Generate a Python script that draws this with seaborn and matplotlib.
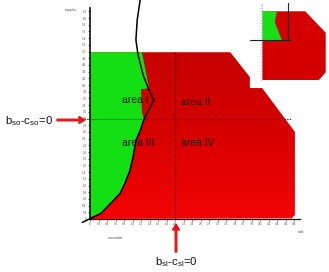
import numpy as np
import pandas as pd
import matplotlib
matplotlib.use("Agg")
import matplotlib.pyplot as plt
from matplotlib.patches import Polygon
import seaborn as sns

# ---- data ----
x_ticks = [round(0.2 * i, 1) for i in range(25)]          # 0 .. 4.8
y_ticks = [round(0.2 * i, 1) for i in range(32)]          # 0 .. 6.2

# red feasible region outline
red_x = [0.0, 0.0, 3.30, 3.76, 3.76, 4.05, 4.82, 4.82, 4.74, 0.0]
red_y = [0.0, 4.98, 4.98, 4.24, 3.91, 3.91, 2.60, 0.12, 0.02, 0.0]

# green region boundary (left of curve)
green_x = [0.0, 0.0, 0.26, 0.49, 0.71, 0.82, 0.94, 1.01, 1.08, 1.18, 1.27, 1.22, 1.20, 1.39, 1.22, 0.0]
green_y = [4.98, 0.04, 0.19, 0.49, 0.79, 1.08, 1.47, 1.86, 2.36, 2.66, 2.98, 3.20, 3.87, 3.91, 4.98, 4.98]

# black boundary curve
curve_x = [-0.18, 0.02, 0.26, 0.49, 0.71, 0.82, 0.94, 1.01, 1.08, 1.18, 1.27, 1.50, 1.37, 1.25, 1.13, 1.08, 1.11, 1.18]
curve_y = [-0.10, 0.02, 0.17, 0.47, 0.77, 1.06, 1.45, 1.84, 2.34, 2.64, 2.98, 3.55, 3.91, 4.30, 4.90, 5.34, 5.94, 6.54]

b_so_line = 3.0
b_sl_line = 2.0

area_labels = ["area I", "area II", "area III", "area IV"]
area_x = [0.75, 2.13, 0.75, 2.13]
area_y = [3.55, 3.50, 2.27, 2.27]

# inset (thumbnail) shapes, in pixel-like units of the thumbnail
inset_red_x = [0, 0, 43, 63, 63, 56, 0]
inset_red_y = [0, 68, 68, 47, 8, 0, 0]
inset_green_x = [0, 0, 14, 12, 19, 0]
inset_green_y = [40, 68, 68, 58, 40, 40]

sns.set_style("white")
plt.rcParams['font.family'] = ['Liberation Sans', 'DejaVu Sans']

fig = plt.figure(figsize=(3.29, 2.72), dpi=100)
W, H = 329, 272
ax = fig.add_axes([90 / W, (H - 219) / H, (300 - 90) / W, (219 - 8) / H])
ax.set_xlim(0, 4.94)
ax.set_ylim(0, 6.3)

# red region with vertical gradient
red_poly = Polygon(np.column_stack([red_x, red_y]), closed=True, facecolor='none', edgecolor='none')
ax.add_patch(red_poly)
grad = np.linspace(0, 1, 256).reshape(-1, 1)
cmap_red = matplotlib.colors.LinearSegmentedColormap.from_list("r", ["#f40404", "#d80000", "#c60000"])
im = ax.imshow(grad, extent=[0, 4.9, 0, 5.0], origin='lower', aspect='auto', cmap=cmap_red, zorder=1)
im.set_clip_path(red_poly)

green_poly = Polygon(np.column_stack([green_x, green_y]), closed=True, facecolor='#12e012', edgecolor='none', zorder=2)
ax.add_patch(green_poly)

# dotted reference lines
ax.vlines(b_sl_line, -0.05, 4.98, colors='#222222', linestyles=(0, (1.2, 1.2)), linewidth=0.8, zorder=3)
ax.hlines(b_so_line, -0.15, 4.75, colors='#222222', linestyles=(0, (1.2, 1.2)), linewidth=0.8, zorder=3, clip_on=False)

# black curve
df = pd.DataFrame({"x": curve_x, "y": curve_y})
sns.lineplot(data=df, x="x", y="y", sort=False, estimator=None, errorbar=None,
             color='black', linewidth=1.1, ax=ax, zorder=4)
for ln in ax.lines:
    ln.set_clip_on(False)

for t, xx, yy in zip(area_labels, area_x, area_y):
    ax.text(xx, yy, t, fontsize=7.5, color='#1c1a10', ha='left', va='center', zorder=5)

# axes styling
ax.set_xticks(x_ticks)
ax.set_yticks(y_ticks)
ax.set_xticklabels([f"{v:.1f}" if v else "0" for v in x_ticks], fontsize=2.2, color='#555555')
ax.set_yticklabels([f"{v:.1f}" if v else "0" for v in y_ticks], fontsize=2.2, color='#555555')
ax.tick_params(axis='both', length=1.5, width=0.5, pad=1, color='#333333', direction='out', left=True, bottom=True)
for s in ['top', 'right']:
    ax.spines[s].set_visible(False)
ax.spines['left'].set_linewidth(1.2)
ax.spines['left'].set_color('#111111')
ax.spines['bottom'].set_linewidth(0.9)
ax.spines['bottom'].set_color('#111111')
ax.set_xlabel("")
ax.set_ylabel("")

fig.text(65 / W, 1 - 10 / H, "supplier", fontsize=2.5, color='#555555', va='center')
fig.text(108 / W, 1 - 238 / H, "ensemble", fontsize=2.5, color='#555555', va='center')
fig.text(298 / W, 1 - 232 / H, "sold", fontsize=2.5, color='#555555', va='center')

# annotations outside the plot
fig.text(5 / W, 1 - 121 / H, r"b$_{\mathregular{so}}$-c$_{\mathregular{so}}$=0", fontsize=8.2, color='#111111', va='center', ha='left')
fig.text(155 / W, 1 - 262 / H, r"b$_{\mathregular{sl}}$-c$_{\mathregular{sl}}$=0", fontsize=8.2, color='#111111', va='center', ha='left')
fig.patches.append(matplotlib.patches.FancyArrow(57 / W, 1 - 120 / H, 22 / W, 0, width=1.6 / H, head_width=7 / H,
                                                  head_length=6 / W, color='#e01818', transform=fig.transFigure, figure=fig))
fig.patches.append(matplotlib.patches.FancyArrow(176 / W, 1 - 252 / H, 0, 22 / H, width=1.6 / W, head_width=7 / W,
                                                  head_length=6 / H, color='#e01818', transform=fig.transFigure, figure=fig))

# inset thumbnail
ax2 = fig.add_axes([262 / W, (H - 80) / H, 67 / W, 77 / H])
ax2.set_xlim(0, 67)
ax2.set_ylim(0, 77)
ax2.fill(inset_red_x, inset_red_y, color='#d40000', zorder=1)
ax2.fill(inset_green_x, inset_green_y, color='#18e018', zorder=2)
ax2.plot([-12, 28], [40, 40], color='#222222', linewidth=0.8, clip_on=False, zorder=3)
ax2.plot([26, 26], [40, 77], color='#222222', linewidth=0.8, clip_on=False, zorder=3)
ax2.set_xticks([])
ax2.set_yticks(np.arange(0, 78, 3))
ax2.set_yticklabels([])
ax2.tick_params(axis='y', length=1.2, width=0.4, color='#aaaaaa', left=True)
for s in ['top', 'right', 'bottom']:
    ax2.spines[s].set_visible(False)
ax2.spines['left'].set_color('#bbbbbb')
ax2.spines['left'].set_linewidth(0.4)
ax2.patch.set_alpha(0)

fig.savefig("out.png", dpi=100)
